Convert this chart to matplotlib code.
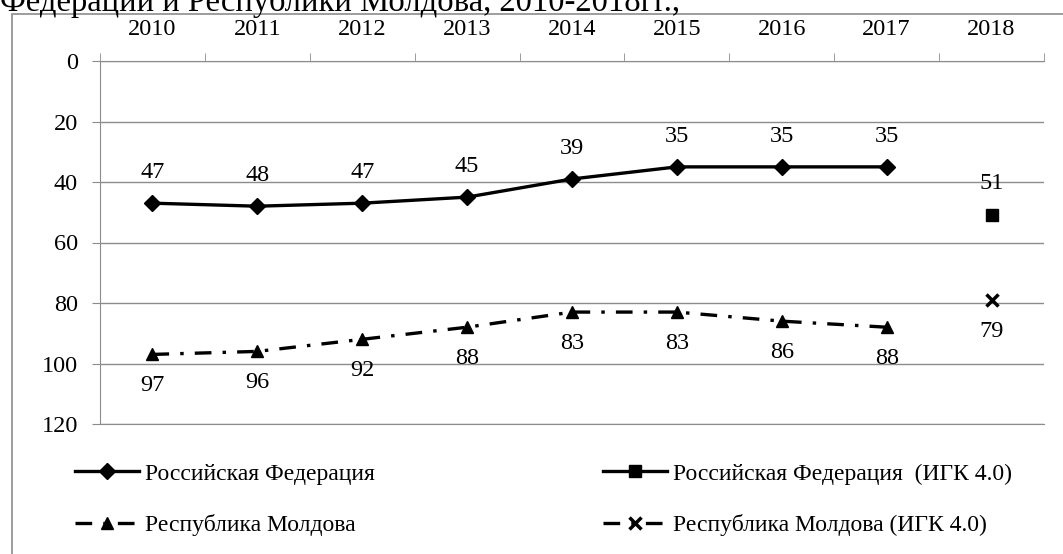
import matplotlib
matplotlib.use("Agg")
from matplotlib import pyplot as plt
from matplotlib.patches import Rectangle
import numpy as np

plt.rcParams['font.family'] = ['Liberation Serif', 'DejaVu Serif']
plt.rcParams['lines.scale_dashes'] = False

years = ['2010', '2011', '2012', '2013', '2014', '2015', '2016', '2017', '2018']
rf = [47, 48, 47, 45, 39, 35, 35, 35]
md = [97, 96, 92, 88, 83, 83, 86, 88]
rf_igk = [51]
md_igk = [79]

W, H = 1063, 554
fig = plt.figure(figsize=(W / 100, H / 100), dpi=100)
ax = fig.add_axes([100 / W, 1 - 424 / H, 944 / W, 363 / H])

fs = 17.5
grey = '#8c8c8c'

x = np.arange(len(rf))
x18 = [8]

l1, = ax.plot(x, rf, color='black', lw=2.4, marker='D', ms=8, clip_on=False)
l2, = ax.plot(x, md, color='black', lw=2.4, dashes=(12, 8, 2.5, 8), marker='^', ms=9, clip_on=False)
l3, = ax.plot(x18, rf_igk, color='black', lw=2.4, marker='s', ms=9, clip_on=False)
l4, = ax.plot(x18, md_igk, color='black', lw=2.4, dashes=(12, 8, 2.5, 8), marker='x', ms=9, mew=2.5, clip_on=False)

# подписи значений
for xi, v in zip(x, rf):
    ax.annotate(str(v), (xi, v), xytext=(0, 22), textcoords='offset points',
                ha='center', va='center', fontsize=fs)
for xi, v in zip(x, md):
    ax.annotate(str(v), (xi, v), xytext=(0, -22.5), textcoords='offset points',
                ha='center', va='center', fontsize=fs)
ax.annotate(str(rf_igk[0]), (x18[0], rf_igk[0]), xytext=(0, 23), textcoords='offset points',
            ha='center', va='center', fontsize=fs)
ax.annotate(str(md_igk[0]), (x18[0], md_igk[0]), xytext=(0, -23), textcoords='offset points',
            ha='center', va='center', fontsize=fs)

ax.set_xlim(-0.5, 8.5)
ax.set_ylim(120, 0)
ax.set_yticks(np.arange(0, 121, 20))
ax.yaxis.grid(True, color=grey, lw=1)
ax.set_axisbelow(True)

ax.xaxis.tick_top()
ax.set_xticks(np.arange(len(years)))
ax.set_xticklabels(years, fontsize=fs)
ax.set_xticks(np.arange(-0.5, 8.6, 1), minor=True)
ax.tick_params(axis='x', which='major', length=0, pad=15)
ax.tick_params(axis='x', which='minor', length=6, color=grey, direction='out')
ax.tick_params(axis='y', length=6, color=grey, labelsize=fs, pad=10)

ax.spines['right'].set_visible(False)
for s in ['left', 'top', 'bottom']:
    ax.spines[s].set_color(grey)

# рамка
fig.patches.append(Rectangle((12 / W, -0.1), 1.2, 1 - 14 / H + 0.1, transform=fig.transFigure,
                             fill=False, edgecolor=grey, lw=1.2))

fig.text(0.0, 1 - 11 / H, 'Федерации и Республики Молдова, 2010-2018гг.,',
         fontsize=23.5, va='baseline', ha='left')

leg_kw = dict(frameon=False, fontsize=17, handlelength=2.7, handletextpad=0.25,
              borderpad=0, borderaxespad=0, labelspacing=1.25, loc='upper left')
fig.legend([l1, l2], ['Российская Федерация', 'Республика Молдова'],
           bbox_to_anchor=(75 / W, 1 - 463 / H), **leg_kw)
fig.legend([l3, l4], ['Российская Федерация  (ИГК 4.0)', 'Республика Молдова (ИГК 4.0)'],
           bbox_to_anchor=(603 / W, 1 - 463 / H), **leg_kw)

fig.savefig('out.png', dpi=100)
